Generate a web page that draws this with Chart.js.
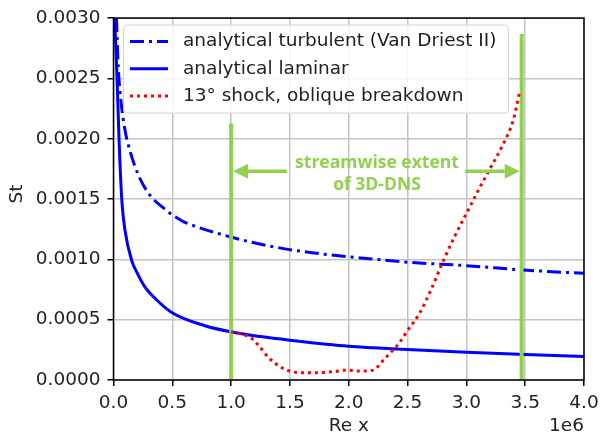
<!DOCTYPE html>
<html>
<head>
<meta charset="utf-8">
<script src="https://cdn.jsdelivr.net/npm/chart.js@4.4.1/dist/chart.umd.min.js"></script>
<style>
  html, body { margin: 0; padding: 0; background: #fff; }
  canvas { display: block; }
</style>
</head>
<body>
<canvas id="chart" width="608" height="436"></canvas>
<script>
// Re x in units of 1e6
const reTurb = [0.025, 0.04, 0.065, 0.098, 0.14, 0.211, 0.296, 0.438, 0.58, 0.65, 0.99, 1.33, 1.67, 2.1, 2.52, 3.0, 3.485, 4.0];
const stTurb = [0.0030, 0.0026, 0.0023, 0.00207, 0.0019, 0.0017, 0.00155, 0.001415, 0.00132, 0.00129, 0.001187, 0.00111, 0.001057, 0.001012, 0.000975, 0.000948, 0.000912, 0.000884];

const reLam = [0.01, 0.03, 0.047, 0.07, 0.098, 0.155, 0.2, 0.268, 0.35, 0.495, 0.778, 1.005, 1.25, 1.5, 2.0, 2.5, 3.0, 3.5, 4.0];
const stLam = [0.0030, 0.0025, 0.0020, 0.0015, 0.00124, 0.00099, 0.00089, 0.00077, 0.00068, 0.00056, 0.00045, 0.000398, 0.00036, 0.00033, 0.00028, 0.000253, 0.00023, 0.000212, 0.000194];

const reShock = [1.0, 1.076, 1.175, 1.231, 1.317, 1.416, 1.473, 1.586, 1.728, 1.87, 1.983, 2.096, 2.209, 2.294, 2.394, 2.436, 2.5, 2.6, 2.7, 2.8, 2.9, 3.0, 3.1, 3.2, 3.3, 3.4, 3.451];
const stShock = [0.0004, 0.000385, 0.000344, 0.000288, 0.000187, 0.00011, 0.000082, 0.00006, 0.00006, 0.000069, 0.000082, 0.000074, 0.000082, 0.000165, 0.000266, 0.000316, 0.00041, 0.00055, 0.00075, 0.00098, 0.00119, 0.00138, 0.00157, 0.00175, 0.00193, 0.00216, 0.00238];

// extent of the 3D-DNS domain
const dnsRe = [1.0, 3.47];
const dnsTop = [0.002126, 0.002868];
const arrowSt = 0.00173;
const arrowTailRe = [1.473, 2.99];
const noteLines = ["streamwise extent", "of 3D-DNS"];
const noteRe = 2.24;
const noteSt = [0.00180, 0.00162];

const xTicks = [0, 0.5, 1.0, 1.5, 2.0, 2.5, 3.0, 3.5, 4.0];
const yTicks = [0, 0.0005, 0.001, 0.0015, 0.002, 0.0025, 0.003];

const FONT = "'DejaVu Sans', sans-serif";
const FSIZE = 18.5;
const TXT = "#222";
const GREEN = "#92d050";

const pts = (xs, ys) => xs.map((x, i) => ({ x, y: ys[i] }));

const datasets = [
  {
    label: "13° shock, oblique breakdown",
    data: pts(reShock, stShock),
    borderColor: "#ff0000", borderWidth: 3, borderDash: [3, 4],
    cubicInterpolationMode: "monotone", order: 1
  },
  {
    label: "dns-start",
    data: pts([dnsRe[0], dnsRe[0]], [0, dnsTop[0]]),
    borderColor: GREEN, borderWidth: 4, order: 2
  },
  {
    label: "dns-end",
    data: pts([dnsRe[1], dnsRe[1]], [0, dnsTop[1]]),
    borderColor: GREEN, borderWidth: 4, order: 2
  },
  {
    label: "analytical laminar",
    data: pts(reLam, stLam),
    borderColor: "#0000ff", borderWidth: 3,
    cubicInterpolationMode: "monotone", order: 3
  },
  {
    label: "analytical turbulent (Van Driest II)",
    data: pts(reTurb, stTurb),
    borderColor: "#0000ff", borderWidth: 3, borderDash: [14, 5, 3, 5],
    cubicInterpolationMode: "monotone", order: 4
  }
];

const legendOrder = [4, 3, 0];

const decorPlugin = {
  id: "decor",
  afterDatasetsDraw(chart) {
    const { ctx, chartArea: a, scales: { x, y } } = chart;
    ctx.save();

    // arrows
    ctx.fillStyle = GREEN;
    ctx.strokeStyle = GREEN;
    const ay = y.getPixelForValue(arrowSt);
    const head = 15, half = 7.5;
    const arrow = (tipX, tailX) => {
      const dir = Math.sign(tailX - tipX);
      ctx.lineWidth = 3.5;
      ctx.beginPath();
      ctx.moveTo(tailX, ay);
      ctx.lineTo(tipX + dir * head, ay);
      ctx.stroke();
      ctx.beginPath();
      ctx.moveTo(tipX, ay);
      ctx.lineTo(tipX + dir * head, ay - half);
      ctx.lineTo(tipX + dir * head, ay + half);
      ctx.closePath();
      ctx.fill();
    };
    arrow(x.getPixelForValue(dnsRe[0]) + 2, x.getPixelForValue(arrowTailRe[0]));
    arrow(x.getPixelForValue(dnsRe[1]) - 2, x.getPixelForValue(arrowTailRe[1]));

    ctx.font = "bold 17.5px 'Open Sans', sans-serif";
    ctx.textAlign = "center";
    ctx.textBaseline = "middle";
    noteLines.forEach((t, i) => {
      ctx.fillText(t, x.getPixelForValue(noteRe), y.getPixelForValue(noteSt[i]));
    });

    // frame
    ctx.strokeStyle = "#000";
    ctx.lineWidth = 1.5;
    ctx.strokeRect(a.left, a.top, a.right - a.left, a.bottom - a.top);

    // axis labels
    ctx.fillStyle = TXT;
    ctx.font = FSIZE + "px " + FONT;
    ctx.textAlign = "center";
    ctx.fillText("Re x", (a.left + a.right) / 2, 426.5);
    ctx.textAlign = "right";
    ctx.fillText("1e6", a.right, 426.5);
    ctx.save();
    ctx.translate(17, 194);
    ctx.rotate(-Math.PI / 2);
    ctx.textAlign = "center";
    ctx.fillText("St", 0, 0);
    ctx.restore();

    // legend
    const lx = 123.5, ly = 25, lw = 385, lh = 88, r = 4;
    ctx.beginPath();
    ctx.roundRect(lx, ly, lw, lh, r);
    ctx.fillStyle = "rgba(255,255,255,0.85)";
    ctx.fill();
    ctx.strokeStyle = "#d4d4d4";
    ctx.lineWidth = 1;
    ctx.stroke();
    legendOrder.forEach((di, i) => {
      const ds = chart.data.datasets[di];
      const yy = 41.5 + i * 27.3;
      ctx.beginPath();
      ctx.setLineDash(ds.borderDash || []);
      ctx.strokeStyle = ds.borderColor;
      ctx.lineWidth = ds.borderWidth;
      ctx.moveTo(130, yy);
      ctx.lineTo(168, yy);
      ctx.stroke();
      ctx.setLineDash([]);
      ctx.fillStyle = TXT;
      ctx.font = FSIZE + "px " + FONT;
      ctx.textAlign = "left";
      ctx.textBaseline = "middle";
      ctx.fillText(ds.label, 183, yy);
    });
    ctx.restore();
  }
};

new Chart(document.getElementById("chart"), {
  type: "scatter",
  data: { datasets },
  options: {
    responsive: false,
    devicePixelRatio: 1,
    animation: false,
    showLine: true,
    layout: { padding: { top: 16, right: 24, left: 0, bottom: 0 } },
    elements: { point: { radius: 0, hoverRadius: 0 }, line: { fill: false } },
    plugins: { legend: { display: false }, tooltip: { enabled: false } },
    scales: {
      x: {
        type: "linear", min: 0, max: 4,
        afterFit: s => { s.height = 56; },
        afterBuildTicks: s => { s.ticks = xTicks.map(v => ({ value: v })); },
        ticks: {
          callback: v => v.toFixed(1),
          font: { family: FONT, size: FSIZE }, color: TXT, padding: 6, maxRotation: 0
        },
        grid: { color: "#c4c4c4", lineWidth: 1.5, tickColor: "#000", tickLength: 6, tickWidth: 1.5 },
        border: { display: false }
      },
      y: {
        type: "linear", min: 0, max: 0.003,
        afterFit: s => { s.width = 113.5; },
        afterBuildTicks: s => { s.ticks = yTicks.map(v => ({ value: v })); },
        ticks: {
          callback: v => v.toFixed(4),
          font: { family: FONT, size: FSIZE }, color: TXT, padding: 7
        },
        grid: { color: "#c4c4c4", lineWidth: 1.5, tickColor: "#000", tickLength: 6, tickWidth: 1.5 },
        border: { display: false }
      }
    }
  },
  plugins: [decorPlugin]
});
</script>
</body>
</html>
